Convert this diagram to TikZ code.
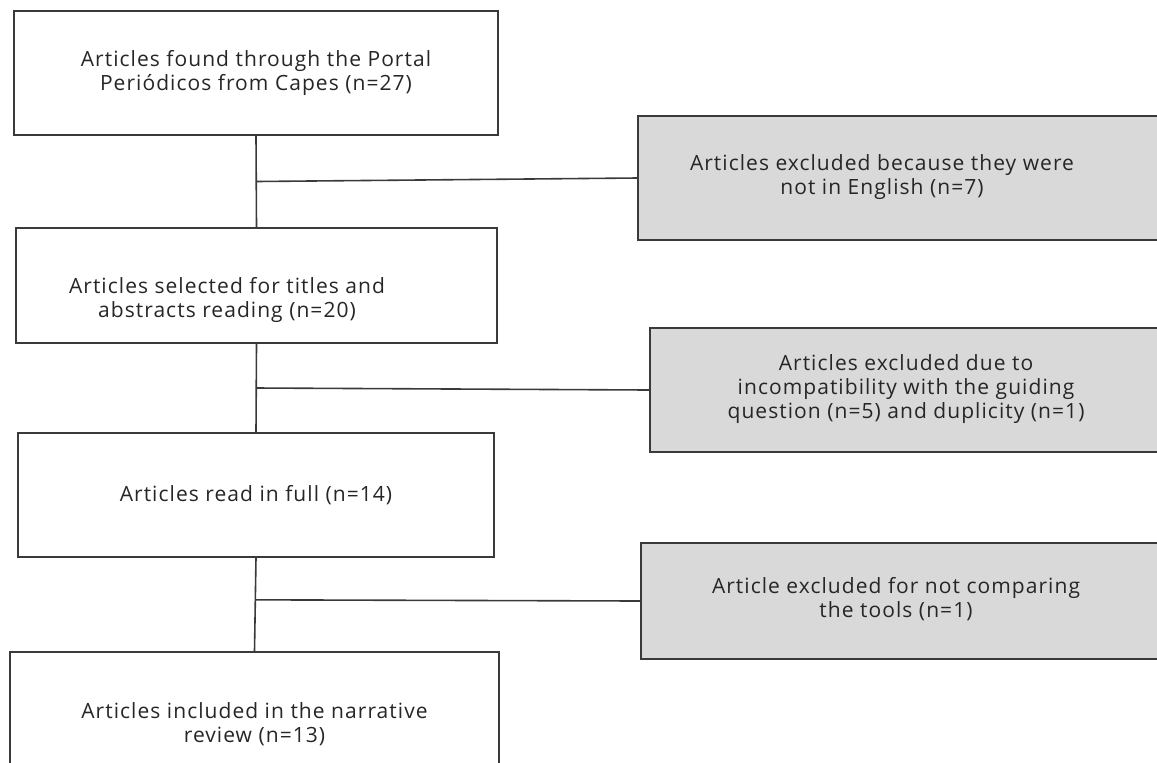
\documentclass[tikz,border=0pt]{standalone}
\usepackage{fontspec}
\setmainfont{Open Sans}[LetterSpace=5]
\usepackage{tikz}
\usetikzlibrary{calc}
\usetikzlibrary{positioning}
\definecolor{linegrey}{HTML}{3A3A3A}
\definecolor{boxgrey}{HTML}{D9D9D9}
\definecolor{textgrey}{HTML}{262626}
% text block moved off the centre of its box
\newcommand{\offtext}[3]{\raisebox{\dimexpr#2-2.6pt\relax}[0pt][0pt]{\hspace*{#1}\begin{tabular}{@{}c@{}}#3\end{tabular}\hspace*{-#1}}}

\begin{document}
\begin{tikzpicture}[x=0.5pt,y=-0.5pt,
  stagebox/.style={draw=linegrey,line width=0.8pt,fill=white,inner sep=0pt,align=center,
    text=textgrey,font=\fontsize{10.5}{11.8}\selectfont},
  exclbox/.style={stagebox,fill=boxgrey},
  conn/.style={draw=linegrey,line width=0.8pt}]
\useasboundingbox (0,0) rectangle (1157,762);
\clip (0,0) rectangle (1157,762);
\node[stagebox,minimum width=242pt,minimum height=62pt] (found) at (256,73)
  {Articles found through the Portal\\Periódicos from Capes (n=27)};
\node[stagebox,minimum width=240.5pt,minimum height=57.5pt] (selected) at (256.5,285.5)
  {\offtext{-14.75pt}{-7.75pt}{Articles selected for titles and\\abstracts reading (n=20)}};
\node[stagebox,minimum width=238pt,minimum height=62pt] (fullread) at (256,495)
  {Articles read in full (n=14)};
\node[stagebox,minimum width=244.5pt,minimum height=72pt] (included) at (254.5,724)
  {Articles included in the narrative\\review (n=13)};
\node[exclbox,minimum width=271pt,minimum height=62pt] (notenglish) at (909,178)
  {\offtext{-13.5pt}{0pt}{Articles excluded because they were\\not in English (n=7)}};
\node[exclbox,minimum width=265pt,minimum height=62pt] (guiding) at (915,390)
  {\offtext{-4.5pt}{0pt}{Articles excluded due to\\incompatibility with the guiding\\question (n=5) and duplicity (n=1)}};
\node[exclbox,minimum width=269.5pt,minimum height=58pt] (notcomparing) at (910.5,601)
  {\offtext{-7.25pt}{0pt}{Article excluded for not comparing\\the tools (n=1)}};
% main line
\draw[conn] (found.south) -- (selected.north);
\draw[conn] (selected.south) -- (fullread.north);
\draw[conn] (fullread.south) -- (included.north);
% branches to the excluded boxes
\coordinate (j1) at ($(found.south)!0.5!(selected.north)$);
\coordinate (j2) at ($(selected.south)!0.5!(fullread.north)$);
\coordinate (j3) at ($(fullread.south)!0.45!(included.north)$);
\draw[conn] (j1) -- (notenglish.west);
\draw[conn] (j2) -- (guiding.west);
\draw[conn] (j3) -- (notcomparing.west);
\end{tikzpicture}
\end{document}
